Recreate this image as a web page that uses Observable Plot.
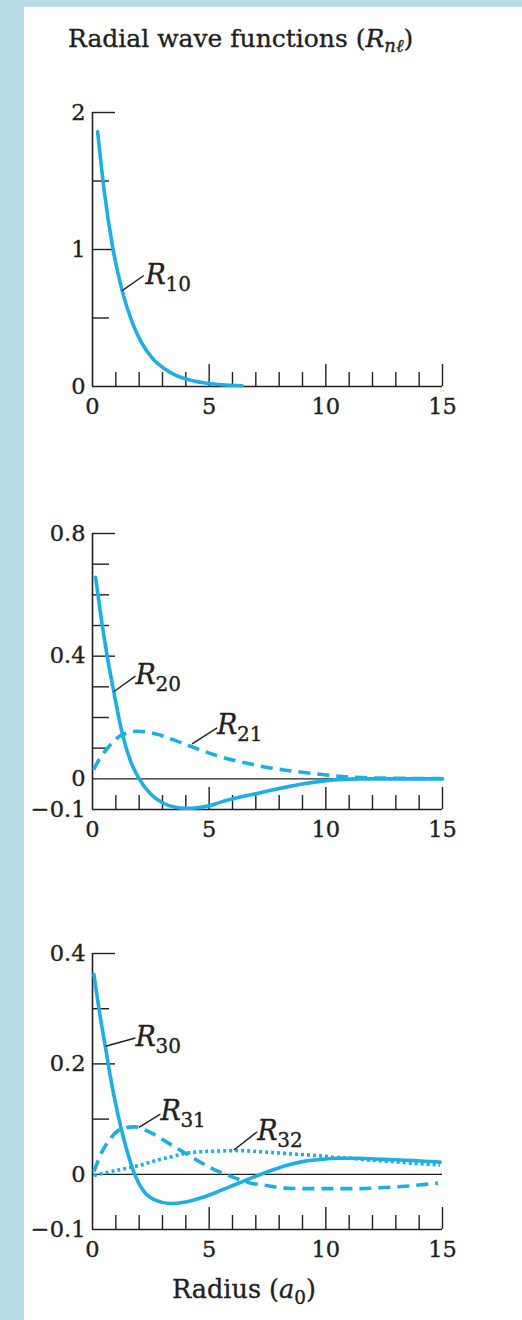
<!DOCTYPE html>
<html>
<head>
<meta charset="utf-8">
<script src="https://cdn.jsdelivr.net/npm/d3@7"></script>
<script src="https://cdn.jsdelivr.net/npm/@observablehq/plot@0.6"></script>
<style>
  html, body { margin: 0; padding: 0; }
  body { width: 522px; height: 1320px; background: #b9dde8; position: relative; overflow: hidden;
         font-family: "DejaVu Serif", serif; color: #231f20; }
  #sheet { position: absolute; left: 24px; top: 7px; right: 0; bottom: 0; background: #fff; }
  .abs { position: absolute; white-space: nowrap; -webkit-text-stroke: 0.35px #231f20; }
  #title { left: 68px; top: 26px; font-size: 25px; line-height: 1; }
  #xlabel { left: 172px; top: 1277px; font-size: 25.5px; line-height: 1; }
  .sub { font-size: 0.72em; position: relative; top: 0.3em; }
  .plotbox { position: absolute; left: 0; }
  .plotbox text { stroke: #231f20; stroke-width: 0.35px; }
</style>
</head>
<body>
<div id="sheet"></div>
<div id="title" class="abs">Radial wave functions (<i>R</i><span class="sub"><i>nℓ</i></span>)</div>
<div id="p1" class="plotbox" style="top:92px"></div>
<div id="p2" class="plotbox" style="top:513px"></div>
<div id="p3" class="plotbox" style="top:933px"></div>
<div id="xlabel" class="abs">Radius (<i>a</i><span class="sub">0</span>)</div>
<script>
// ---------- data ----------
const r10X = [0.22, 0.5, 0.85, 1.27, 1.7, 2.1, 2.6, 3.1, 3.6, 4.2, 5.0, 5.7, 6.4];
const r10Y = [1.86, 1.43, 1.03, 0.70, 0.47, 0.32, 0.20, 0.128, 0.08, 0.046, 0.022, 0.011, 0.006];

const r20X = [0.13, 0.4, 0.63, 0.91, 1.27, 1.63, 2.0, 2.5, 3.0, 3.5, 4.0, 4.4, 5.0, 5.5, 6.2, 6.9, 7.6, 8.3, 9.0, 9.7, 10.5, 11.5, 13, 15];
const r20Y = [0.657, 0.51, 0.40, 0.285, 0.15, 0.058, 0.0, -0.05, -0.078, -0.092, -0.096, -0.095, -0.088, -0.076, -0.062, -0.050, -0.038, -0.027, -0.017, -0.009, -0.003, 0.0, 0.0, 0.0];

const r21X = [0.05, 0.3, 0.56, 0.85, 1.13, 1.5, 1.9, 2.3, 2.8, 3.3, 4.0, 4.7, 5.4, 6.1, 6.8, 7.5, 8.2, 8.9, 9.6, 10.3, 11.0, 12, 13, 14, 15];
const r21Y = [0.03, 0.065, 0.092, 0.118, 0.137, 0.150, 0.155, 0.153, 0.145, 0.132, 0.112, 0.092, 0.074, 0.06, 0.048, 0.037, 0.029, 0.022, 0.016, 0.01, 0.006, 0.003, 0.002, 0.001, 0.001];

const r30X = [0.06, 0.34, 0.56, 0.77, 1.06, 1.41, 1.77, 2.2, 2.7, 3.3, 4.0, 4.7, 5.4, 6.1, 6.85, 7.6, 8.3, 9.0, 9.8, 10.6, 11.4, 12.5, 13.7, 14.9];
const r30Y = [0.362, 0.283, 0.229, 0.176, 0.114, 0.053, 0.004, -0.031, -0.047, -0.053, -0.050, -0.042, -0.031, -0.019, -0.006, 0.006, 0.016, 0.023, 0.027, 0.029, 0.029, 0.027, 0.025, 0.022];

const r31X = [0.06, 0.41, 0.77, 1.13, 1.5, 1.84, 2.2, 2.56, 3.27, 3.99, 4.7, 5.41, 6.13, 6.8, 7.4, 8.2, 9.0, 9.8, 10.6, 11.4, 12.5, 13.6, 14.8];
const r31Y = [0.005, 0.041, 0.065, 0.080, 0.085, 0.086, 0.081, 0.074, 0.056, 0.038, 0.020, 0.005, -0.007, -0.016, -0.020, -0.025, -0.026, -0.026, -0.026, -0.026, -0.024, -0.021, -0.016];

const r32X = [0.06, 1.13, 2.0, 2.56, 3.3, 3.99, 4.7, 5.41, 6.1, 6.84, 7.5, 8.2, 8.9, 9.63, 10.3, 11.06, 11.8, 12.5, 13.7, 14.9];
const r32Y = [-0.002, 0.008, 0.016, 0.023, 0.031, 0.038, 0.041, 0.042, 0.043, 0.042, 0.040, 0.038, 0.036, 0.034, 0.031, 0.029, 0.026, 0.024, 0.020, 0.017];

// axes / ticks
const xDomain = [0, 15];
const xTickLabels = [0, 5, 10, 15];
const xMajorTicks = [5, 10, 15];
const xMinorTicks = [1, 2, 3, 4, 6, 7, 8, 9, 11, 12, 13, 14];

const p1YDomain = [0, 2];
const p1YLabels = [0, 1, 2];
const p1YMajor = [1, 2];
const p1YMinor = [0.5, 1.5];

const p2YDomain = [-0.1, 0.8];
const p2YLabels = [-0.1, 0, 0.4, 0.8];
const p2YMajor = [0.4, 0.8];
const p2YMinor = [0.1, 0.2, 0.3, 0.5, 0.6, 0.7];

const p3YDomain = [-0.1, 0.4];
const p3YLabels = [-0.1, 0, 0.2, 0.4];
const p3YMajor = [0.2, 0.4];
const p3YMinor = [0.1, 0.3];

// curve labels and their leader lines
const labelPanel = [1, 2, 2, 3, 3, 3];
const labelSub = ["10", "20", "21", "30", "31", "32"];
const labelX = [2.27, 1.84, 5.34, 1.84, 2.91, 7.06];
const labelY = [0.75, 0.308, 0.145, 0.232, 0.099, 0.062];
const leaderX1 = [1.27, 0.91, 4.27, 0.56, 1.99, 6.06];
const leaderY1 = [0.70, 0.284, 0.114, 0.232, 0.085, 0.044];
const leaderX2 = [2.2, 1.84, 5.34, 1.84, 2.91, 7.06];
const leaderY2 = [0.81, 0.335, 0.166, 0.247, 0.109, 0.077];

// ---------- drawing ----------
const ink = "#231f20";
const blue = "#1cafe5";
const pts = (xs, ys) => xs.map((x, i) => ({x, y: ys[i]}));
const fmt = d => d < 0 ? "\u2212" + Math.abs(d) : String(d);
const labels = labelSub.map((s, i) => ({panel: labelPanel[i], sub: s, x: labelX[i], y: labelY[i],
  x1: leaderX1[i], y1: leaderY1[i], x2: leaderX2[i], y2: leaderY2[i]}));

function panel({id, height, yDomain, yLabels, yMajor, yMinor, zeroLine, lines}) {
  const W = 480, ML = 92, MR = 38, MT = 20, MB = 45;
  const innerW = W - ML - MR, innerH = height - MT - MB;
  const lab = labels.filter(d => d.panel === id);
  const sw = 1.4;
  const marks = [
    Plot.ruleY(yMinor, {y: d => d, insetRight: innerW - 17, stroke: ink, strokeWidth: sw}),
    Plot.ruleY(yMajor, {y: d => d, insetRight: innerW - 23, stroke: ink, strokeWidth: sw}),
    Plot.ruleX(xMinorTicks, {x: d => d, insetTop: innerH - 14, stroke: ink, strokeWidth: sw}),
    Plot.ruleX(xMajorTicks, {x: d => d, insetTop: innerH - 22, stroke: ink, strokeWidth: sw}),
    Plot.ruleX([0], {x: d => d, stroke: ink, strokeWidth: 1.6}),
    Plot.ruleY([yDomain[0]], {y: d => d, stroke: ink, strokeWidth: 1.6}),
    zeroLine ? Plot.ruleY([0], {y: d => d, stroke: ink, strokeWidth: 1.3}) : null,
    Plot.axisY(yLabels, {tickSize: 0, tickPadding: 7, tickFormat: fmt, fontSize: 22.5, label: null}),
    Plot.axisX(xTickLabels, {tickSize: 0, tickPadding: 12, tickFormat: fmt, fontSize: 22.5, label: null}),
    ...lines.map(l => Plot.line(pts(l.xs, l.ys), {x: "x", y: "y", stroke: blue, strokeWidth: 3.6,
      curve: "monotone-x", strokeDasharray: l.dash, strokeLinecap: l.dash ? "butt" : "round"})),
    Plot.link(lab, {x1: "x1", y1: "y1", x2: "x2", y2: "y2", stroke: ink, strokeWidth: 1.4}),
    Plot.text(lab, {x: "x", y: "y", text: () => "R", fontStyle: "italic", fontSize: 27,
      textAnchor: "start", lineAnchor: "bottom", fill: ink}),
    Plot.text(lab, {x: "x", y: "y", text: "sub", fontSize: 20, dx: 20, dy: 7,
      textAnchor: "start", lineAnchor: "bottom", fill: ink})
  ];
  const svg = Plot.plot({
    width: W, height, marginLeft: ML, marginRight: MR, marginTop: MT, marginBottom: MB,
    x: {domain: xDomain, label: null},
    y: {domain: yDomain, label: null},
    style: {fontFamily: "'DejaVu Serif', serif", color: ink, background: "transparent", overflow: "visible"},
    marks
  });
  document.getElementById("p" + id).appendChild(svg);
}

panel({id: 1, height: 339, yDomain: p1YDomain, yLabels: p1YLabels, yMajor: p1YMajor, yMinor: p1YMinor,
  zeroLine: false, lines: [{xs: r10X, ys: r10Y, dash: null}]});
panel({id: 2, height: 341, yDomain: p2YDomain, yLabels: p2YLabels, yMajor: p2YMajor, yMinor: p2YMinor,
  zeroLine: true, lines: [{xs: r21X, ys: r21Y, dash: "12,7"}, {xs: r20X, ys: r20Y, dash: null}]});
panel({id: 3, height: 341, yDomain: p3YDomain, yLabels: p3YLabels, yMajor: p3YMajor, yMinor: p3YMinor,
  zeroLine: true, lines: [{xs: r32X, ys: r32Y, dash: "3,3"}, {xs: r31X, ys: r31Y, dash: "12,7"}, {xs: r30X, ys: r30Y, dash: null}]});
</script>
</body>
</html>
